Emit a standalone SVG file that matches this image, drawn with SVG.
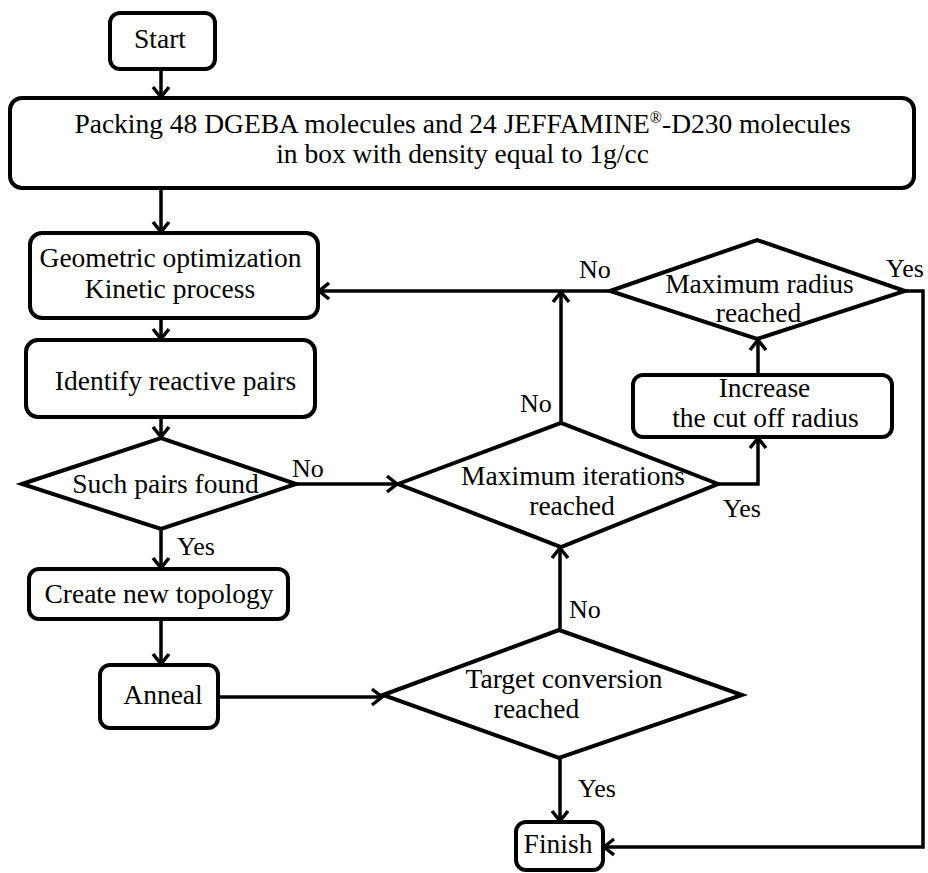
<svg xmlns="http://www.w3.org/2000/svg" width="928" height="873" viewBox="0 0 928 873">
<defs>
<style>
.box{fill:#fff;stroke:#000;stroke-width:4}
.dia{fill:#fff;stroke:#000;stroke-width:4;stroke-linejoin:miter}
.t{font-family:"Liberation Serif","Times New Roman",serif;font-size:27.5px;fill:#000;text-anchor:middle}
.lbl{font-family:"Liberation Serif","Times New Roman",serif;font-size:26px;fill:#000}
.c{fill:none;stroke:#000;stroke-width:3.5}
</style>
<marker id="arr" markerUnits="userSpaceOnUse" markerWidth="24" markerHeight="24" viewBox="-14 -12 16 24" refX="0" refY="0" orient="auto">
<path d="M-10,-8 L0,0 L-10,8" fill="none" stroke="#000" stroke-width="3.5" stroke-linejoin="miter"/>
</marker>
</defs>
<rect width="928" height="873" fill="#fff"/>

<g id="connectors">
<line class="c" x1="161" y1="69" x2="161" y2="97" marker-end="url(#arr)"/>
<line class="c" x1="161" y1="188" x2="161" y2="232" marker-end="url(#arr)"/>
<line class="c" x1="161" y1="318" x2="161" y2="339" marker-end="url(#arr)"/>
<line class="c" x1="161" y1="417" x2="161" y2="437" marker-end="url(#arr)"/>
<line class="c" x1="161" y1="529" x2="161" y2="568" marker-end="url(#arr)"/>
<line class="c" x1="161" y1="619" x2="161" y2="664" marker-end="url(#arr)"/>
<line class="c" x1="218" y1="697" x2="382" y2="697" marker-end="url(#arr)"/>
<line class="c" x1="560" y1="630" x2="560" y2="548" marker-end="url(#arr)"/>
<line class="c" x1="560" y1="758" x2="560" y2="821" marker-end="url(#arr)"/>
<line class="c" x1="296" y1="484" x2="397" y2="484" marker-end="url(#arr)"/>
<polyline class="c" points="718,484 758,484 758,438" marker-end="url(#arr)"/>
<line class="c" x1="758" y1="375" x2="758" y2="340" marker-end="url(#arr)"/>
<line class="c" x1="610" y1="291" x2="319" y2="291" marker-end="url(#arr)"/>
<line class="c" x1="561" y1="423" x2="561" y2="292" marker-end="url(#arr)"/>
<polyline class="c" points="905,291 923,291 923,847 604,847" marker-end="url(#arr)"/>
</g>

<g id="start">
<rect class="box" x="110" y="13" width="105" height="56" rx="10"/>
<text class="t" x="160" y="48">Start</text>
</g>

<g id="packing">
<rect class="box" x="10" y="98" width="904" height="90" rx="12"/>
<text class="t" x="462.5" y="133">Packing 48 DGEBA molecules and 24 JEFFAMINE<tspan font-size="16" dy="-10">®</tspan><tspan dy="10">-D230 molecules</tspan></text>
<text class="t" x="462.5" y="163">in box with density equal to 1g/cc</text>
</g>

<g id="geometric">
<rect class="box" x="30" y="233" width="288" height="85" rx="12"/>
<text class="t" x="170.5" y="267">Geometric optimization</text>
<text class="t" x="170" y="298">Kinetic process</text>
</g>

<g id="identify">
<rect class="box" x="26" y="340" width="289" height="77" rx="12"/>
<text class="t" x="175.5" y="390">Identify reactive pairs</text>
</g>

<g id="such-pairs">
<polygon class="dia" points="22,484 161,438 296,484 161,529"/>
<text class="t" x="165.5" y="493">Such pairs found</text>
</g>

<g id="create">
<rect class="box" x="29" y="569" width="259" height="50" rx="10"/>
<text class="t" x="159" y="603">Create new topology</text>
</g>

<g id="anneal">
<rect class="box" x="100" y="665" width="118" height="63" rx="10"/>
<text class="t" x="163" y="704">Anneal</text>
</g>

<g id="target">
<polygon class="dia" points="383,695 559,630 742,695 559,758"/>
<text class="t" x="564" y="688">Target conversion</text>
<text class="t" x="536.5" y="718">reached</text>
</g>

<g id="max-iterations">
<polygon class="dia" points="398,484 561,423 718,484 561,547"/>
<text class="t" x="573" y="485">Maximum iterations</text>
<text class="t" x="572" y="515">reached</text>
</g>

<g id="increase">
<rect class="box" x="633" y="375" width="259" height="62" rx="10"/>
<text class="t" x="764.5" y="397">Increase</text>
<text class="t" x="765.5" y="427">the cut off radius</text>
</g>

<g id="max-radius">
<polygon class="dia" points="610,291 757,240 905,291 757,339"/>
<text class="t" x="759.5" y="293">Maximum radius</text>
<text class="t" x="758.5" y="322">reached</text>
</g>

<g id="finish">
<rect class="box" x="516" y="822" width="87" height="48" rx="10"/>
<text class="t" x="558" y="853">Finish</text>
</g>

<g id="labels">
<text class="lbl" x="292" y="477">No</text>
<text class="lbl" x="177" y="555">Yes</text>
<text class="lbl" x="520" y="412">No</text>
<text class="lbl" x="723" y="517">Yes</text>
<text class="lbl" x="569" y="618">No</text>
<text class="lbl" x="578" y="797">Yes</text>
<text class="lbl" x="579" y="278">No</text>
<text class="lbl" x="886" y="277">Yes</text>
</g>
</svg>
